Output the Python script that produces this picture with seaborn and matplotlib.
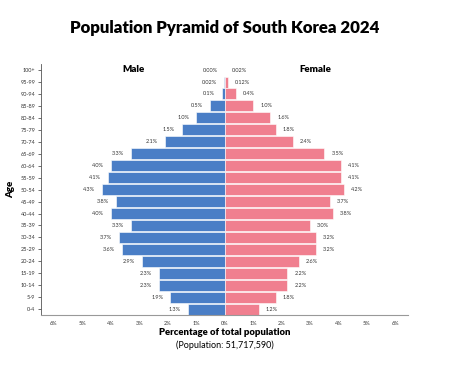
import pandas as pd
import matplotlib
matplotlib.use("Agg")
import matplotlib.pyplot as plt
import seaborn as sns

sns.set_style("white")
plt.rcParams['font.family'] = ['Lato', 'DejaVu Sans']
plt.rcParams['text.color'] = 'black'
plt.rcParams['axes.labelcolor'] = 'black'

# Data
age_groups = ["100+", "95-99", "90-94", "85-89", "80-84", "75-79", "70-74",
              "65-69", "60-64", "55-59", "50-54", "45-49", "40-44", "35-39",
              "30-34", "25-29", "20-24", "15-19", "10-14", "5-9", "0-4"]
male = [0.00, 0.02, 0.1, 0.5, 1.0, 1.5, 2.1, 3.3, 4.0, 4.1, 4.3, 3.8, 4.0, 3.3,
        3.7, 3.6, 2.9, 2.3, 2.3, 1.9, 1.3]
female = [0.02, 0.12, 0.4, 1.0, 1.6, 1.8, 2.4, 3.5, 4.1, 4.1, 4.2, 3.7, 3.8, 3.0,
          3.2, 3.2, 2.6, 2.2, 2.2, 1.8, 1.2]
male_labels = ["0.00%", "0.02%", "0.1%", "0.5%", "1.0%", "1.5%", "2.1%", "3.3%",
               "4.0%", "4.1%", "4.3%", "3.8%", "4.0%", "3.3%", "3.7%", "3.6%",
               "2.9%", "2.3%", "2.3%", "1.9%", "1.3%"]
female_labels = ["0.02%", "0.12%", "0.4%", "1.0%", "1.6%", "1.8%", "2.4%", "3.5%",
                 "4.1%", "4.1%", "4.2%", "3.7%", "3.8%", "3.0%", "3.2%", "3.2%",
                 "2.6%", "2.2%", "2.2%", "1.8%", "1.2%"]
x_ticks = [-6, -5, -4, -3, -2, -1, 0, 1, 2, 3, 4, 5, 6]

df = pd.DataFrame({"Age": age_groups, "Male": male, "Female": female})
df["MaleNeg"] = -df["Male"]

blue = "#4a7ec6"
pink = "#f07f8f"

fig = plt.figure(figsize=(4.5, 3.77), dpi=100)
ax = fig.add_axes([0.091, 0.164, 0.816, 0.666])

sns.barplot(data=df, x="MaleNeg", y="Age", orient="h", color=blue, saturation=1,
            width=0.92, edgecolor="white", linewidth=0.4, ax=ax)
sns.barplot(data=df, x="Female", y="Age", orient="h", color=pink, saturation=1,
            width=0.92, edgecolor="white", linewidth=0.4, ax=ax)

# value labels
for i, (m, f) in enumerate(zip(male, female)):
    ax.text(-m - 0.25, i, male_labels[i], ha="right", va="center",
            fontsize=4, color="#333333")
    ax.text(f + 0.25, i, female_labels[i], ha="left", va="center",
            fontsize=4, color="#333333")

ax.set_xlim(-6.45, 6.45)
ax.set_xticks(x_ticks)
ax.set_xticklabels([f"{abs(t)}%" for t in x_ticks])
ax.tick_params(axis="x", labelsize=4, length=0, pad=4, colors="#333333")
ax.tick_params(axis="y", labelsize=4, length=2, width=0.5, pad=2,
               left=True, colors="#333333")

sns.despine(ax=ax, top=True, right=True)
ax.spines["left"].set_color("#555555")
ax.spines["left"].set_linewidth(0.6)
ax.spines["bottom"].set_color("#999999")
ax.spines["bottom"].set_linewidth(0.8)

ax.set_ylabel("Age", fontsize=7, fontweight="heavy", labelpad=4)
ax.set_xlabel("")

ax.text(-3.2, -0.05, "Male", ha="center", va="center", fontsize=7, fontweight="heavy")
ax.text(3.2, -0.05, "Female", ha="center", va="center", fontsize=7, fontweight="heavy")

fig.text(0.5, 0.926, "Population Pyramid of South Korea 2024", ha="center",
         va="center", fontsize=12.1, fontweight="heavy")
fig.text(0.5, 0.117, "Percentage of total population", ha="center", va="center",
         fontsize=6.8, fontweight="heavy")
fig.text(0.5, 0.085, "(Population: 51,717,590)", ha="center", va="center",
         fontsize=6.5)

fig.savefig("out.png", dpi=100)
